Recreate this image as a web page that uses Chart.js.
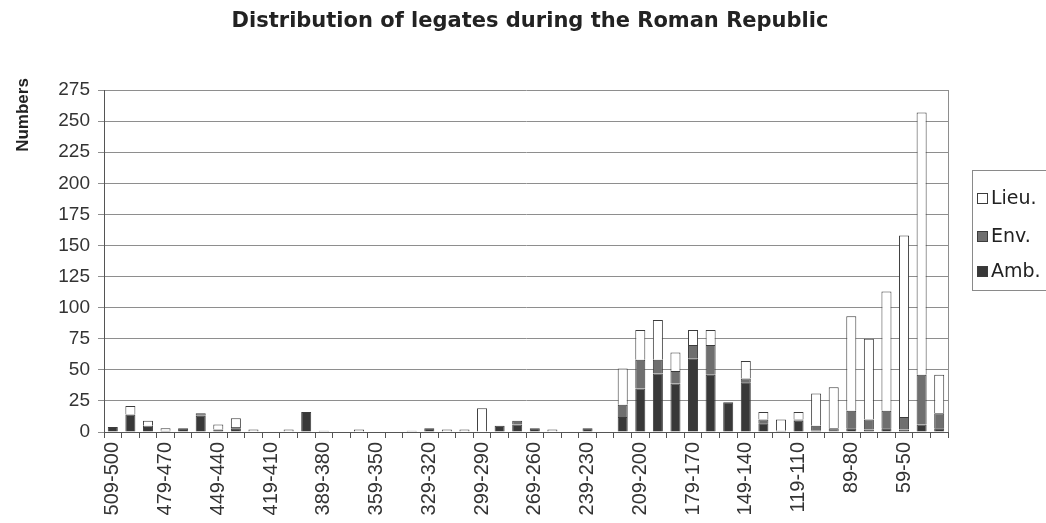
<!DOCTYPE html>
<html>
<head>
<meta charset="utf-8">
<script src="https://cdn.jsdelivr.net/npm/chart.js@4.4.1/dist/chart.umd.min.js"></script>
<style>
  html, body { margin: 0; padding: 0; background: #fff; }
  #wrap { position: relative; width: 1046px; height: 523px; }
</style>
</head>
<body>
<div id="wrap"><canvas id="c" width="1046" height="523"></canvas></div>
<script>
// Decades BC, oldest first
const periods = [
  '509-500','499-490','489-480','479-470','469-460','459-450','449-440','439-430',
  '429-420','419-410','409-400','399-390','389-380','379-370','369-360','359-350',
  '349-340','339-330','329-320','319-310','309-300','299-290','289-280','279-270',
  '269-260','259-250','249-240','239-230','229-220','219-210','209-200','199-190',
  '189-180','179-170','169-160','159-150','149-140','139-130','129-120','119-110',
  '109-100','99-90','89-80','79-70','69-60','59-50','49-40','39-30'
];

// Legates per decade, by type
const ambassadors = [
  4,14,4,1,3,13,2,3, 0,0,0,16,0,0,0,0,
  0,0,3,0,0,0,5,6, 3,0,0,3,0,12,35,47,
  39,59,46,24,40,7,0,9, 1,0,3,2,3,2,6,3
];
const envoys = [
  0,0,1,0,0,2,0,1, 0,0,0,0,0,0,0,0,
  0,0,0,0,0,0,0,3, 0,0,0,0,0,10,23,11,
  10,11,24,0,3,3,1,1, 4,3,14,8,14,10,40,12
];
const lieutenants = [
  0,7,4,2,0,0,4,7, 2,0,2,0,1,0,2,0,
  0,1,0,2,2,19,0,0, 0,2,0,0,0,29,24,32,
  15,12,12,0,14,6,9,6, 26,33,76,65,96,146,211,31
];

const yTicksMax = 275;
const yTickStep = 25;

const titleText = 'Distribution of legates during the Roman Republic';
const axisTitle = 'Numbers';

const AXIS = '#555555';
const GRID = '#8e8e8e';
const EDGE = '#3c3c3c';

// Title, axis caption, right frame edge and the boxed legend
const decor = {
  id: 'decor',
  afterDraw(chart) {
    const ctx = chart.ctx;
    const a = chart.chartArea;
    ctx.save();
    // right edge of the plot frame
    ctx.strokeStyle = GRID;
    ctx.lineWidth = 1;
    ctx.beginPath();
    ctx.moveTo(Math.round(a.right) + 0.5, a.top);
    ctx.lineTo(Math.round(a.right) + 0.5, a.bottom);
    ctx.stroke();

    // title
    ctx.fillStyle = '#222';
    ctx.font = 'bold 21px "DejaVu Sans"';
    ctx.textAlign = 'center';
    ctx.textBaseline = 'middle';
    ctx.fillText(titleText, 530, 22);

    // vertical axis caption
    ctx.save();
    ctx.translate(23, 115);
    ctx.rotate(-Math.PI / 2);
    ctx.font = 'bold 17px "Liberation Sans"';
    ctx.fillText(axisTitle, 0, 0);
    ctx.restore();

    // legend frame
    ctx.strokeStyle = '#8a8a8a';
    ctx.strokeRect(972.5, 170.5, 90, 120);
    const items = chart.data.datasets.slice().reverse();
    const ys = [198, 236, 271];
    ctx.font = '19px "DejaVu Sans"';
    ctx.textAlign = 'left';
    items.forEach((ds, i) => {
      ctx.fillStyle = ds.backgroundColor;
      ctx.fillRect(977, ys[i] - 5, 11, 11);
      ctx.strokeStyle = EDGE;
      ctx.strokeRect(977.5, ys[i] - 4.5, 10, 10);
      ctx.fillStyle = '#222';
      ctx.fillText(ds.label, 991, ys[i] + 1);
    });
    ctx.restore();
  }
};

new Chart(document.getElementById('c'), {
  type: 'bar',
  data: {
    labels: periods,
    datasets: [
      { label: 'Amb.',  data: ambassadors, backgroundColor: '#383838' },
      { label: 'Env.',  data: envoys,      backgroundColor: '#6f6f6f' },
      { label: 'Lieu.', data: lieutenants, backgroundColor: '#ffffff' }
    ]
  },
  options: {
    responsive: false,
    animation: false,
    devicePixelRatio: 1,
    layout: { padding: { top: 90, right: 98, left: 0, bottom: 0 } },
    datasets: {
      bar: {
        categoryPercentage: 1.0,
        barPercentage: 0.57,
        borderColor: EDGE,
        borderWidth: 1
      }
    },
    plugins: {
      legend: { display: false },
      title: { display: false },
      tooltip: { enabled: false }
    },
    scales: {
      x: {
        stacked: true,
        offset: true,
        afterFit(s) { s.height = 91; },
        border: { color: AXIS, width: 1 },
        grid: {
          offset: true,
          drawOnChartArea: false,
          drawTicks: true,
          tickLength: 6,
          color: AXIS
        },
        ticks: {
          autoSkip: false,
          minRotation: 90,
          maxRotation: 90,
          padding: 4,
          color: '#333',
          font: { family: '"Liberation Sans"', size: 20 },
          callback(value, index) {
            return index % 3 === 0 ? this.getLabelForValue(value) : '';
          }
        }
      },
      y: {
        stacked: true,
        min: 0,
        max: yTicksMax,
        afterFit(s) { s.width = 104; },
        border: { color: AXIS, width: 1 },
        grid: {
          color: GRID,
          lineWidth: 1,
          drawTicks: true,
          tickLength: 6
        },
        ticks: {
          stepSize: yTickStep,
          padding: 8,
          color: '#333',
          font: { family: '"Liberation Sans"', size: 19 }
        }
      }
    }
  },
  plugins: [decor]
});
</script>
</body>
</html>
